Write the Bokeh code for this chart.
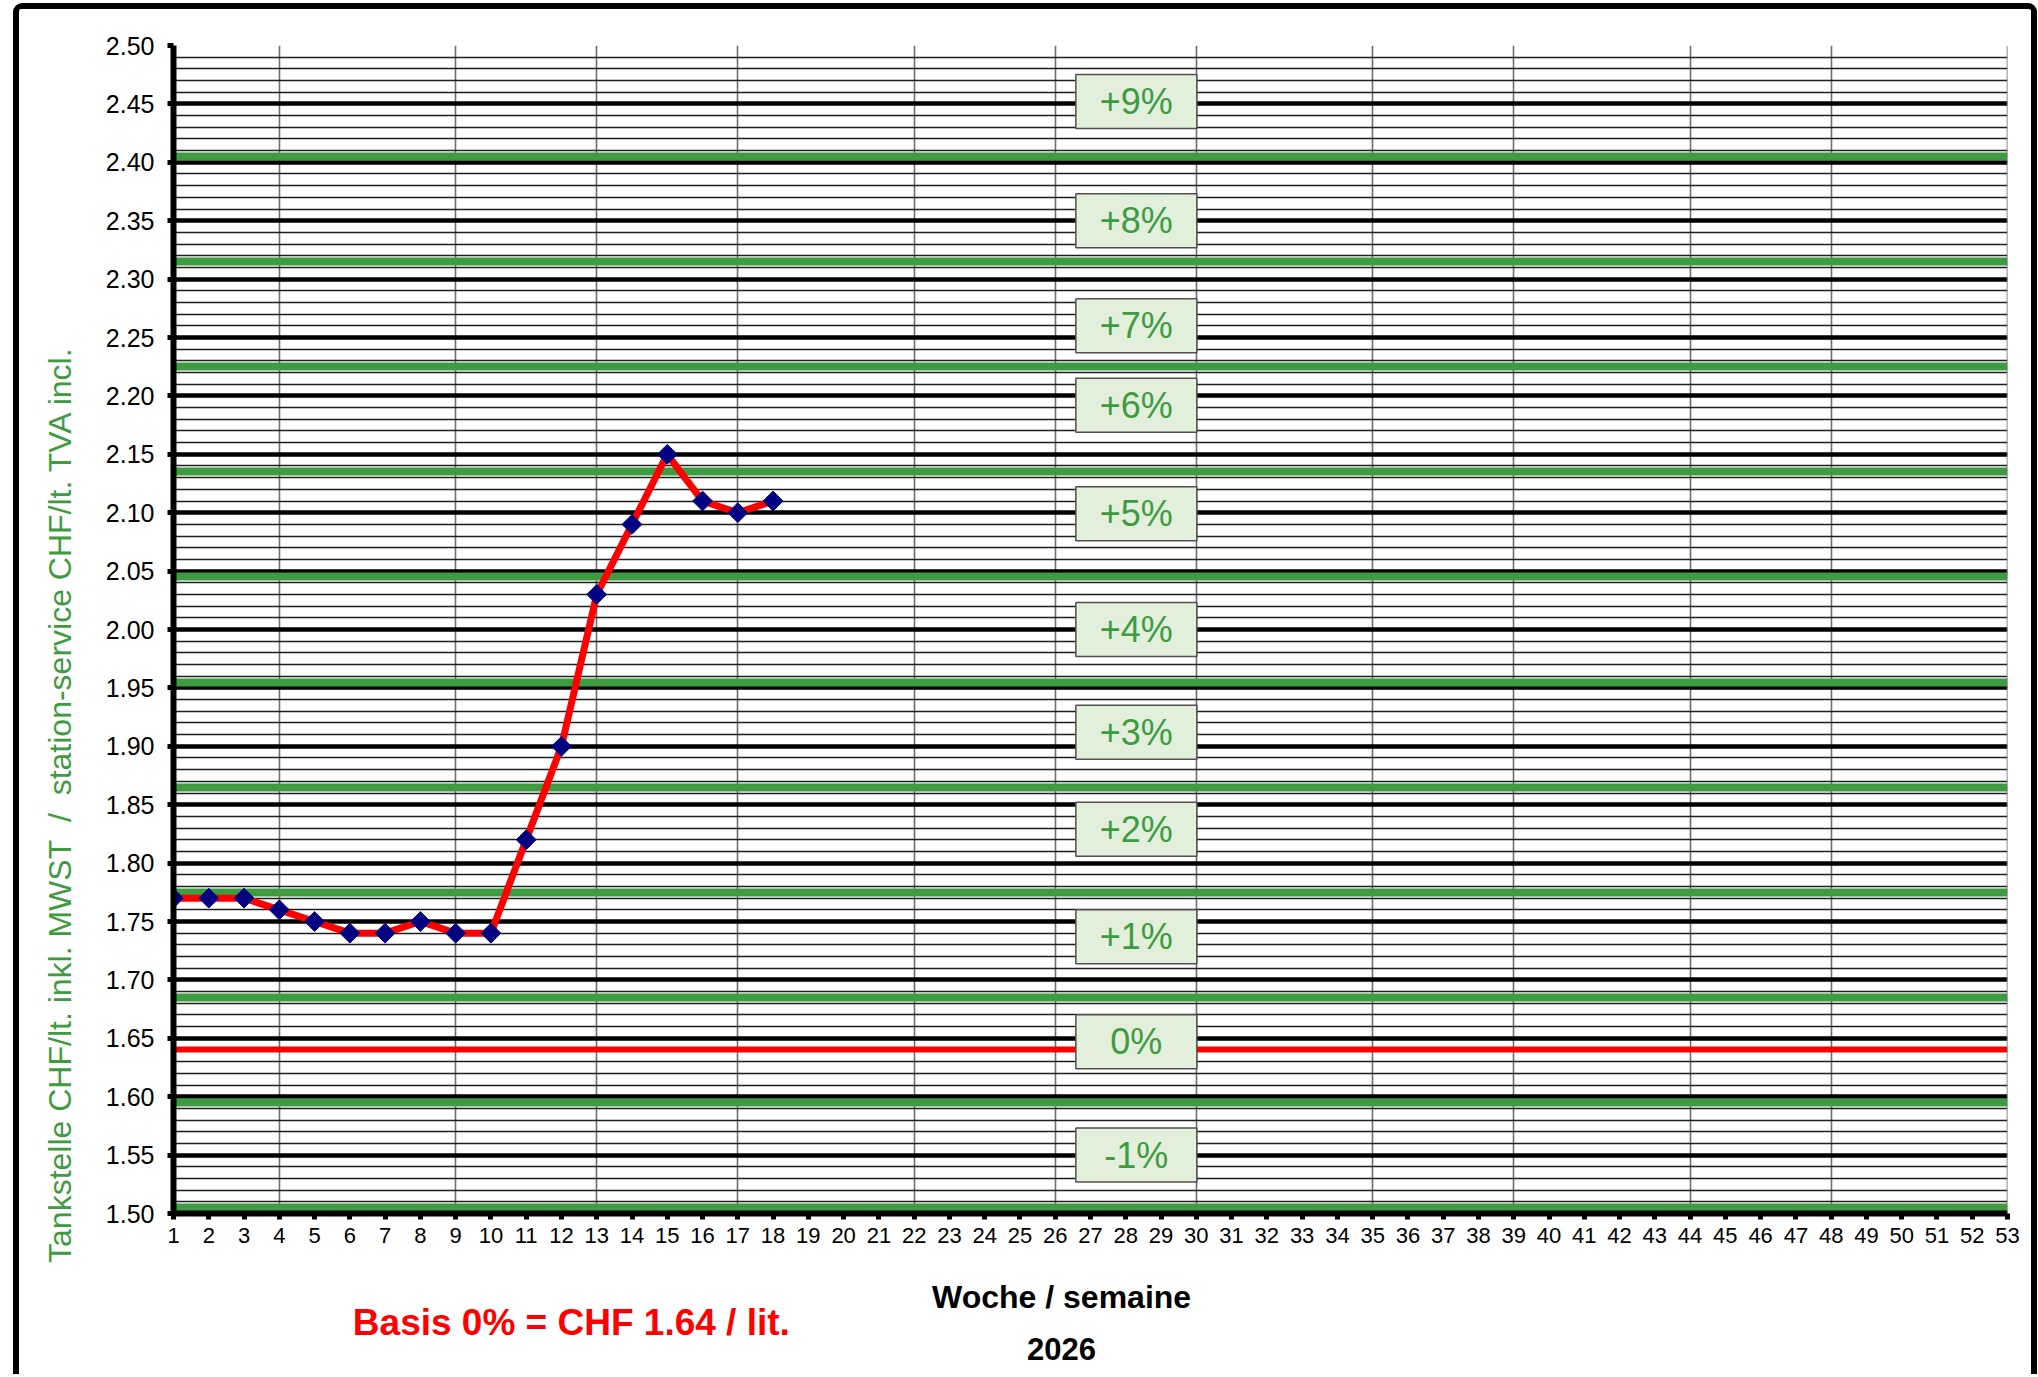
import math
from bokeh.plotting import figure
from bokeh.layouts import row, column
from bokeh.models import ColumnDataSource, Range1d, FixedTicker, NumeralTickFormatter, Span
from bokeh.embed import file_html
from bokeh.resources import INLINE
from bokeh.core.properties import value

# ---------------- data ----------------
weeks = list(range(1, 19))
prices = [1.77, 1.77, 1.77, 1.76, 1.75, 1.74, 1.74, 1.75, 1.74, 1.74,
          1.82, 1.90, 2.03, 2.09, 2.15, 2.11, 2.10, 2.11]
basis_price = 1.64
band_edges = [1.505, 1.595, 1.685, 1.775, 1.865, 1.955, 2.045, 2.135, 2.225, 2.315, 2.405]
pct_labels = ["-1%", "0%", "+1%", "+2%", "+3%", "+4%", "+5%", "+6%", "+7%", "+8%", "+9%"]
pct_label_y = [1.550, 1.647, 1.737, 1.829, 1.912, 2.000, 2.099, 2.192, 2.260, 2.350, 2.452]
pct_label_week = 28.3
month_weeks = [4, 9, 13, 17, 22, 26, 30, 35, 39, 44, 48]
x_ticks = list(range(1, 54))
y_ticks = [1.50, 1.55, 1.60, 1.65, 1.70, 1.75, 1.80, 1.85, 1.90, 1.95, 2.00,
           2.05, 2.10, 2.15, 2.20, 2.25, 2.30, 2.35, 2.40, 2.45, 2.50]
y_minor = [round(1.50 + 0.01 * i, 2) for i in range(101)]

NB = "\u00a0"
y_title = "Tankstelle CHF/lt. inkl. MWST" + NB * 2 + "/" + NB * 2 + "station-service CHF/lt. TVA incl."
x_title = "Woche / semaine"
year_text = "2026"
basis_text = "Basis 0% = CHF 1.64 / lit."

GREEN = "#3f9b41"
FONT = value("Liberation Sans")

# ---------------- layout sizes (pixels) ----------------
CW, CH = 2012, 1365          # content inside the border
LW = 75                      # left strip (y title)
MW = CW - LW                 # main figure width
MH = 1256                    # main figure height
BH = CH - MH                 # bottom strip height

# ---------------- main chart ----------------
p = figure(width=MW, height=MH, output_backend="svg", toolbar_location=None,
           x_range=Range1d(1, 53), y_range=Range1d(1.50, 2.50),
           min_border_left=79, min_border_top=36, min_border_right=24, min_border_bottom=52)
p.outline_line_color = None
p.background_fill_color = "white"

p.ygrid.ticker = FixedTicker(ticks=y_ticks, minor_ticks=y_minor)
p.ygrid.grid_line_color = "black"
p.ygrid.grid_line_width = 4.5
p.ygrid.minor_grid_line_color = "#1e1e1e"
p.ygrid.minor_grid_line_width = 1.3
p.xgrid.ticker = FixedTicker(ticks=month_weeks)
p.xgrid.grid_line_color = "#6e6e6e"
p.xgrid.grid_line_width = 1.6
p.add_layout(Span(location=53, dimension="height", line_color="#6e6e6e", line_width=1.6))

p.yaxis.ticker = FixedTicker(ticks=y_ticks)
p.yaxis.formatter = NumeralTickFormatter(format="0.00")
p.xaxis.ticker = FixedTicker(ticks=x_ticks)
for ax in (p.xaxis[0], p.yaxis[0]):
    ax.axis_line_width = 6
    ax.axis_line_color = "black"
    ax.major_tick_line_width = 5
    ax.major_tick_line_color = "black"
    ax.major_tick_out = 6
    ax.major_tick_in = 0
    ax.minor_tick_line_color = None
    ax.major_label_text_font = "Liberation Sans"
    ax.major_label_text_color = "black"
p.yaxis.major_label_text_font_size = "25px"
p.yaxis.major_label_standoff = 13
p.xaxis.major_label_text_font_size = "22px"
p.xaxis.major_label_standoff = 8

p.hspan(y=band_edges, line_color=GREEN, line_width=8)
p.hspan(y=[basis_price], line_color="red", line_width=6)

src = ColumnDataSource(dict(week=weeks, price=prices))
p.line("week", "price", source=src, line_color="red", line_width=7)
p.scatter("week", "price", source=src, marker="square", size=14, angle=math.pi / 4,
          fill_color="#000080", line_color="#000080")

lsrc = ColumnDataSource(dict(x=[pct_label_week] * len(pct_labels), y=pct_label_y, t=pct_labels))
p.rect("x", "y", width=121, height=54, width_units="screen", height_units="screen",
       source=lsrc, fill_color="#e2efda", line_color="#505050", line_width=1.5)
p.text("x", "y", text="t", source=lsrc, text_align="center", text_baseline="middle",
       text_font=FONT, text_font_size="36px", text_color=GREEN)

# ---------------- helper strips ----------------
def strip(w, h, xr, yr):
    f = figure(width=w, height=h, output_backend="svg", toolbar_location=None,
               x_range=xr, y_range=yr, x_axis_type=None, y_axis_type=None, min_border=0)
    f.outline_line_color = None
    f.background_fill_color = "white"
    f.border_fill_color = "white"
    return f

# left strip: y title (pixel coordinates)
left = strip(LW, CH, Range1d(0, LW), Range1d(0, CH))
left.text(x=[40], y=[570], text=[y_title], angle=math.pi / 2,
          text_align="center", text_baseline="alphabetic",
          text_font=FONT, text_font_size="32px", text_color=GREEN)

# bottom strip: shares the week scale of the chart horizontally
bottom = strip(MW, BH, Range1d(1, 53), Range1d(0, BH))
bottom.text(x=[26.18], y=[78], text=[x_title], text_align="center", text_baseline="middle",
            text_font=FONT, text_font_size="32px", text_font_style="bold", text_color="black")
bottom.text(x=[26.18], y=[26], text=[year_text], text_align="center", text_baseline="middle",
            text_font=FONT, text_font_size="31px", text_font_style="bold", text_color="black")
bottom.text(x=[12.28], y=[52], text=[basis_text], text_align="center", text_baseline="middle",
            text_font=FONT, text_font_size="37px", text_font_style="bold", text_color="red")

page = row(left, column(p, bottom, spacing=0), spacing=0,
           styles={"border": "6px solid black", "border-bottom": "none",
                   "border-radius": "9px 9px 0 0", "margin-left": "13px", "margin-top": "3px"})

open("out.html", "w").write(file_html(page, INLINE))
